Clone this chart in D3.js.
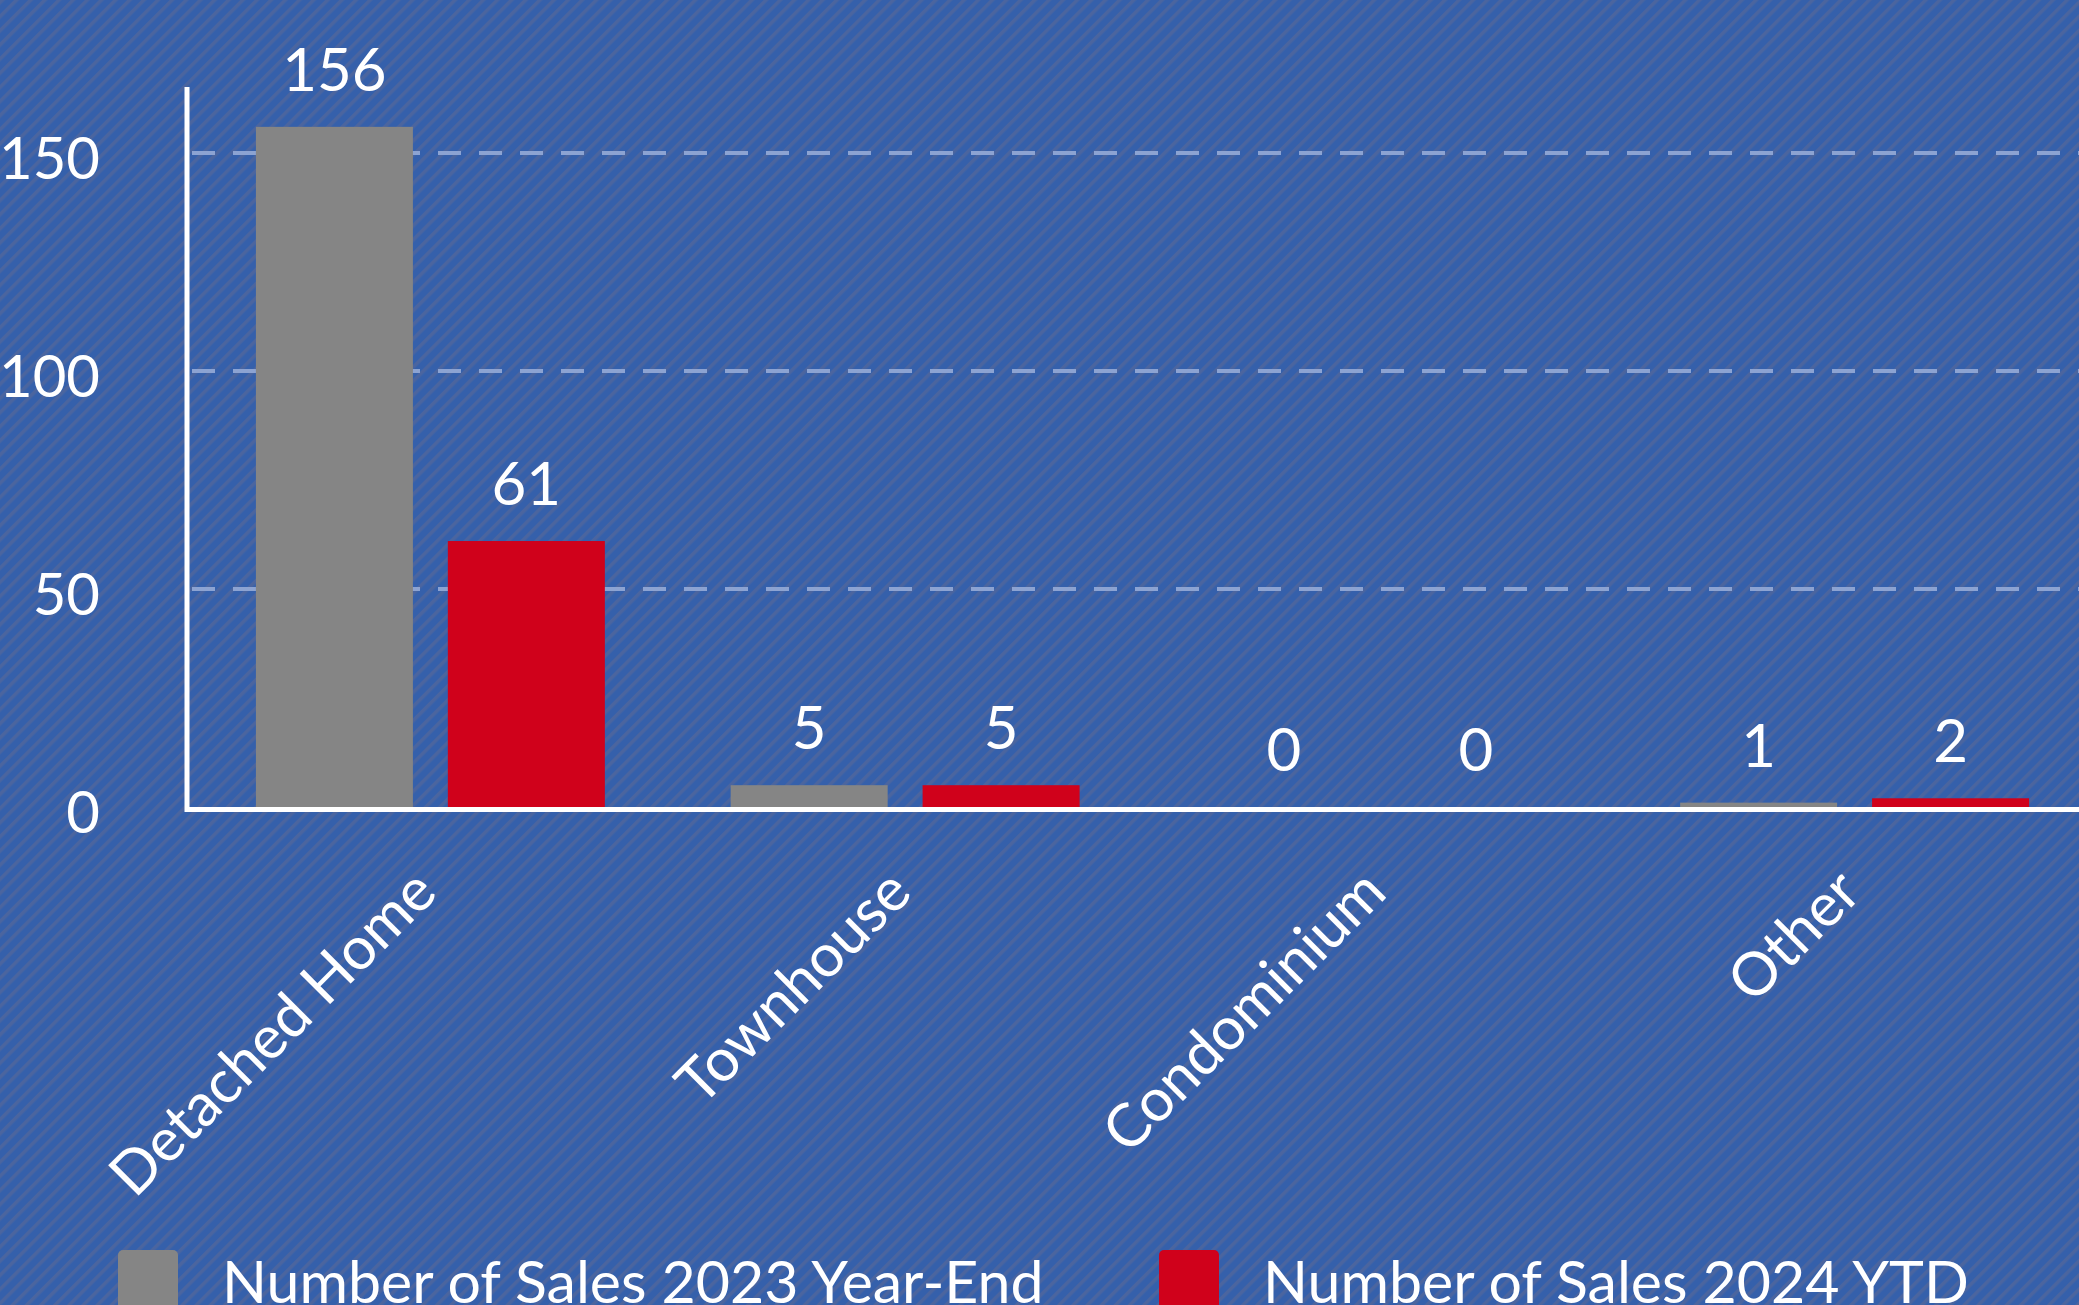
<!DOCTYPE html>
<meta charset="utf-8">
<style>
  body { margin: 0; background: #3560ab; overflow: hidden; }
  text { font-family: Lato, "Open Sans", sans-serif; fill: #fff; }
</style>
<div id="chart"></div>
<script src="https://d3js.org/d3.v7.min.js"></script>
<script>
var categories = ["Detached Home", "Townhouse", "Condominium", "Other"];
var seriesNames = ["Number of Sales 2023 Year-End", "Number of Sales 2024 YTD"];
var sales2023 = [156, 5, 0, 1];
var sales2024 = [61, 5, 0, 2];
var yTicks = [0, 50, 100, 150];

var W = 2079, H = 1305;
var colors = ["#858585", "#d0011b"];

var svg = d3.select("#chart").append("svg").attr("width", W).attr("height", H);

// striped backdrop
var defs = svg.append("defs");
var pat = defs.append("pattern").attr("id", "stripes")
    .attr("patternUnits", "userSpaceOnUse").attr("width", 10).attr("height", 10)
    .attr("patternTransform", "rotate(45)");
pat.append("rect").attr("width", 10).attr("height", 10).attr("fill", "#3560ab");
pat.append("rect").attr("width", 3.5).attr("height", 10).attr("fill", "#4b659f");
svg.append("rect").attr("width", W).attr("height", H).attr("fill", "url(#stripes)");

var rows = categories.map(function(c, i) {
    return { cat: c, vals: [sales2023[i], sales2024[i]] };
});

var x0 = d3.scaleBand().domain(categories).range([193, 2092])
    .paddingInner(0.265).paddingOuter(0.1325);
var x1 = d3.scaleBand().domain([0, 1]).range([0, x0.bandwidth()]).paddingInner(0.182);
var y = d3.scaleLinear().domain([0, 150]).range([807, 153]);

// gridlines
svg.append("g").selectAll("line").data(yTicks.filter(function(d) { return d > 0; }))
    .enter().append("line")
    .attr("x1", 190).attr("x2", W)
    .attr("y1", function(d) { return y(d); }).attr("y2", function(d) { return y(d); })
    .attr("stroke", "#8ca3d2").attr("stroke-width", 4)
    .attr("stroke-dasharray", "23,18").attr("stroke-dashoffset", -2);

// y tick labels
svg.append("g").selectAll("text").data(yTicks).enter().append("text")
    .attr("x", 100).attr("y", function(d) { return y(d) + 26; })
    .attr("text-anchor", "end").attr("font-size", 58)
    .text(function(d) { return d; });

// bars
var groups = svg.append("g").selectAll("g").data(rows).enter().append("g")
    .attr("transform", function(d) { return "translate(" + x0(d.cat) + ",0)"; });
groups.selectAll("rect").data(function(d) { return d.vals; }).enter().append("rect")
    .attr("x", function(d, i) { return x1(i); })
    .attr("width", x1.bandwidth())
    .attr("y", function(d) { return y(d); })
    .attr("height", function(d) { return y(0) - y(d); })
    .attr("fill", function(d, i) { return colors[i]; });
groups.selectAll("text").data(function(d) { return d.vals; }).enter().append("text")
    .attr("x", function(d, i) { return x1(i) + x1.bandwidth() / 2; })
    .attr("y", function(d) { return y(d) - 36; })
    .attr("text-anchor", "middle").attr("font-size", 60)
    .text(function(d) { return d; });

// axes lines
svg.append("line").attr("x1", 187).attr("x2", 187).attr("y1", 87).attr("y2", 812)
    .attr("stroke", "#fff").attr("stroke-width", 5);
svg.append("line").attr("x1", 185).attr("x2", W).attr("y1", y(0) + 2.5).attr("y2", y(0) + 2.5)
    .attr("stroke", "#fff").attr("stroke-width", 5);

// category labels
svg.append("g").selectAll("text").data(categories).enter().append("text")
    .attr("transform", function(d) {
        return "translate(" + (x0(d) + x0.bandwidth() / 2 + 9) + ",895) rotate(-45)";
    })
    .attr("text-anchor", "end").attr("font-size", 60)
    .text(function(d) { return d; });

// legend
var legX = [118, 1159];
var leg = svg.append("g").selectAll("g").data(seriesNames).enter().append("g")
    .attr("transform", function(d, i) { return "translate(" + legX[i] + ",1250)"; });
leg.append("rect").attr("width", 60).attr("height", 80).attr("rx", 5)
    .attr("fill", function(d, i) { return colors[i]; });
leg.append("text").attr("x", 104).attr("y", 53).attr("font-size", 59)
    .text(function(d) { return d; });
</script>
